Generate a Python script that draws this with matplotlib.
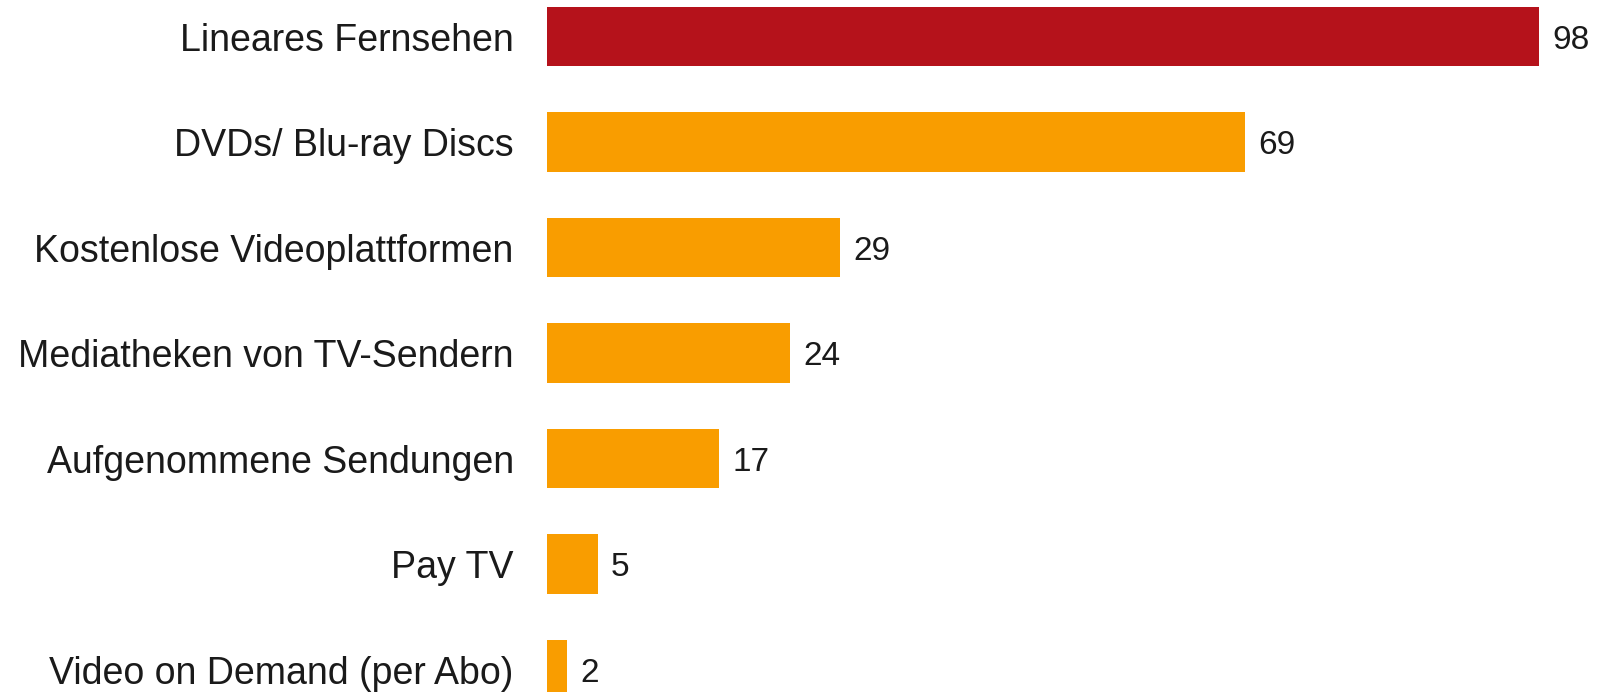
import matplotlib.pyplot as plt

plt.rcParams['font.family'] = ['Liberation Sans', 'DejaVu Sans']

categories = ['Lineares Fernsehen', 'DVDs/ Blu-ray Discs', 'Kostenlose Videoplattformen',
              'Mediatheken von TV-Sendern', 'Aufgenommene Sendungen', 'Pay TV',
              'Video on Demand (per Abo)']
values = [98, 69, 29, 24, 17, 5, 2]
colors = ['#b5121b'] + ['#f99d00'] * 6

fig = plt.figure(figsize=(16.05, 6.92), dpi=100)
ax = fig.add_axes([547 / 1605, 0, 1012 / 1605, 1])

pos = list(range(len(categories)))
ax.barh(pos, values, height=0.56, color=colors)
for p, v in zip(pos, values):
    ax.text(v + 1.3, p, str(v), va='center_baseline', ha='left', fontsize=24,
            color='#1a1a1a', clip_on=False)

ax.set_yticks(pos)
ax.set_yticklabels(categories, fontsize=27, color='#1a1a1a')
ax.tick_params(axis='y', length=0, pad=24)
ax.set_xticks([])
ax.set_xlim(0, 100)
ax.set_ylim(6.213, -0.346)
for s in ax.spines.values():
    s.set_visible(False)

fig.savefig('out.png', dpi=100)
